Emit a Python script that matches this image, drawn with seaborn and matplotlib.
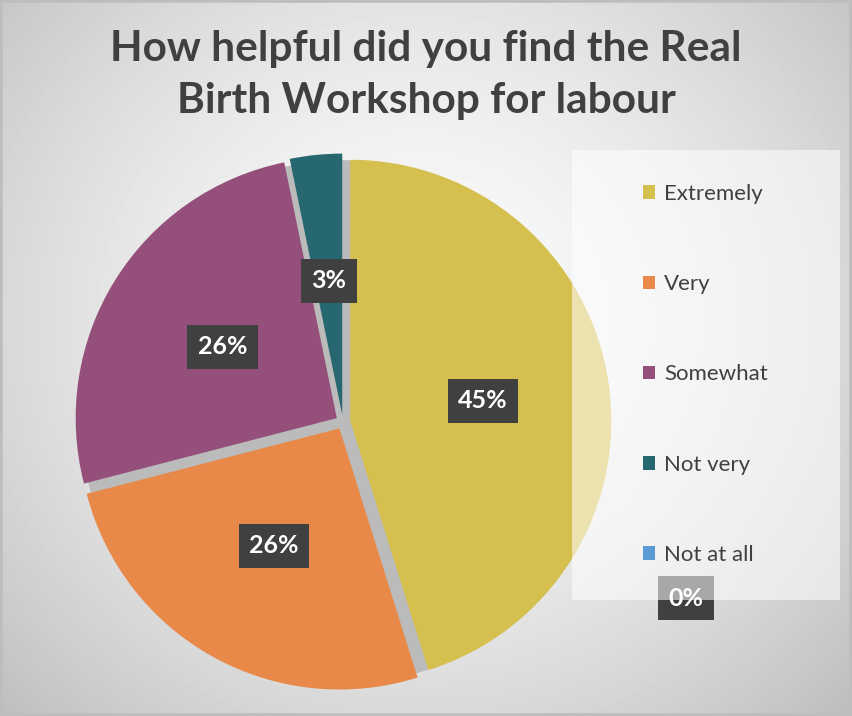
import numpy as np
import matplotlib
matplotlib.use("Agg")
import matplotlib.pyplot as plt
from matplotlib.patches import Rectangle, Circle, Patch
import seaborn as sns

# Data (31 respondents)
categories = ["Extremely", "Very", "Somewhat", "Not very", "Not at all"]
counts = [14, 8, 8, 1, 0]
colors = ["#D4BF4F", "#E8894A", "#944F7B", "#276770", "#5B9BD5"]
title = "How helpful did you find the Real\nBirth Workshop for labour"

sns.set_theme(style="white")
plt.rcParams["font.family"] = ["Lato", "DejaVu Sans"]
palette = sns.color_palette(colors)

W, H = 852, 716
fig = plt.figure(figsize=(W / 100, H / 100), dpi=100)

# radial gradient background
bg = fig.add_axes([0, 0, 1, 1])
yy, xx = np.mgrid[0:H, 0:W]
r = np.hypot(xx - 420, (yy - 320) * 1.05) / 560
shade = np.clip(0.985 - 0.22 * r ** 1.6, 0, 1)
bg.imshow(shade, cmap="gray", vmin=0, vmax=1, extent=[0, 1, 0, 1], aspect="auto")
bg.add_patch(Rectangle((0, 0), 1, 1, transform=bg.transAxes, fill=False,
                       edgecolor="#BDBDBD", lw=4))
bg.set_axis_off()

# pie axes: centre ~ (343, 422) px, radius ~ 272 px
R = 272
cx, cy = 343, 422
lim = 1.2
aw, ah = 2 * lim * R / W, 2 * lim * R / H
ax = fig.add_axes([cx / W - aw / 2, 1 - cy / H - ah / 2, aw, ah])
ax.set_xlim(-lim, lim)
ax.set_ylim(-lim, lim)
ax.set_axis_off()

ax.add_patch(Circle((0, 0), 1.0, color="#BBBBBB", zorder=0))

wedges, texts, autotexts = ax.pie(
    counts, colors=palette, startangle=90, counterclock=False,
    explode=[0.028] * len(counts), radius=1.0, pctdistance=0.515,
    autopct=lambda p: f"{p:.0f}%",
    wedgeprops=dict(linewidth=0),
    textprops=dict(color="white", fontsize=18, fontweight="bold"),
)
for t in autotexts:
    t.set_bbox(dict(facecolor="#404040", edgecolor="none", boxstyle="square,pad=0.42"))
    t.set_zorder(4)
# Excel pushed the zero label outside the pie
autotexts[-1].set_transform(fig.transFigure)
autotexts[-1].set_position((686 / W, 1 - 598 / H))

# translucent legend panel
ax.add_patch(Rectangle((572 / W, 1 - 600 / H), 268 / W, 450 / H,
                       transform=fig.transFigure, facecolor="white", alpha=0.55,
                       edgecolor="none", zorder=5, clip_on=False))

handles = [Patch(facecolor=c, edgecolor="none") for c in colors]
leg = fig.legend(handles, categories, loc="upper left",
                 bbox_to_anchor=(623 / W, 1 - 164 / H), frameon=False,
                 fontsize=16, labelcolor="#404040", handlelength=0.55,
                 handleheight=0.55, handletextpad=0.4, labelspacing=3.16)
leg.set_zorder(6)

fig.text(0.5, 1 - 75 / H, title, ha="center", va="center", fontsize=30.5,
         fontweight="bold", color="#404040", linespacing=1.42)

fig.savefig("out.png", dpi=100)
